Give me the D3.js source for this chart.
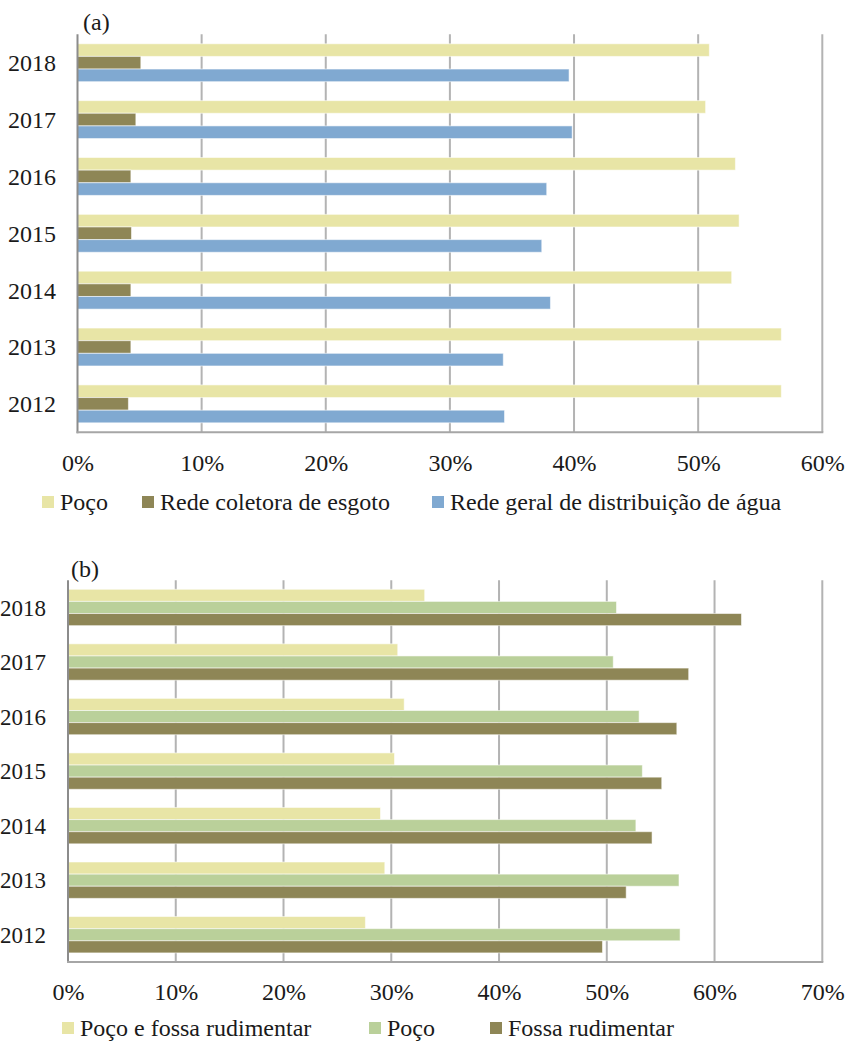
<!DOCTYPE html>
<html>
<head>
<meta charset="utf-8">
<script src="https://cdn.jsdelivr.net/npm/d3@7"></script>
</head>
<body style="margin:0;padding:0;background:#fff">
<svg id="chart" width="850" height="1042" style="display:block"></svg>
<script>
// ---------- Data ----------
const years = ["2018", "2017", "2016", "2015", "2014", "2013", "2012"];

// Panel (a)
const seriesA = ["Poço", "Rede coletora de esgoto", "Rede geral de distribuição de água"];
const pocoA   = [50.9, 50.6, 53.0, 53.3, 52.7, 56.7, 56.7];
const esgotoA = [5.1, 4.7, 4.3, 4.35, 4.3, 4.3, 4.1];
const aguaA   = [39.6, 39.85, 37.8, 37.4, 38.1, 34.3, 34.4];
const ticksA  = [0, 10, 20, 30, 40, 50, 60];

// Panel (b)
const seriesB    = ["Poço e fossa rudimentar", "Poço", "Fossa rudimentar"];
const pocoFossaB = [33.1, 30.6, 31.2, 30.3, 29.0, 29.4, 27.6];
const pocoB      = [50.9, 50.6, 53.0, 53.3, 52.7, 56.7, 56.8];
const fossaB     = [62.5, 57.6, 56.5, 55.1, 54.2, 51.8, 49.6];
const ticksB     = [0, 10, 20, 30, 40, 50, 60, 70];

// ---------- Styles ----------
const FONT = '"Liberation Serif"';
const TXT = "#1a1a1a";
const YELLOW = "#e8e5a6", BROWN = "#8e8656", BLUE = "#80a9d1", GREEN = "#bad09a";
const svg = d3.select("#chart");

function styleText(sel, size) {
  return sel.style("font-family", FONT).style("font-size", size + "px").style("fill", TXT);
}

function panel(cfg) {
  const g = svg.append("g");
  const x = d3.scaleLinear().domain([0, cfg.max]).range([cfg.x0, cfg.x1]);
  const y = d3.scaleBand().domain(years).range([cfg.y0, cfg.y1])
              .paddingInner(1/3).paddingOuter(1/6);
  const sub = d3.scaleBand().domain(cfg.series.map((d, i) => i)).range([0, y.bandwidth()]);

  // gridlines
  g.append("g").selectAll("line").data(cfg.ticks.filter(t => t > 0)).join("line")
    .attr("x1", d => x(d)).attr("x2", d => x(d))
    .attr("y1", cfg.y0).attr("y2", cfg.y1)
    .attr("stroke", "#b3b3b3").attr("stroke-width", 2);

  // bars
  cfg.values.forEach((vals, si) => {
    g.append("g").selectAll("rect").data(vals).join("rect")
      .attr("x", x(0))
      .attr("y", (d, i) => y(years[i]) + sub(si))
      .attr("width", d => x(d) - x(0))
      .attr("height", sub.bandwidth())
      .attr("fill", cfg.colors[si])
      .attr("stroke", "#ffffff").attr("stroke-opacity", 0.55).attr("stroke-width", 1);
  });

  // left axis line and bottom line
  g.append("line").attr("x1", x(0)).attr("x2", x(0)).attr("y1", cfg.y0).attr("y2", cfg.y1 + 1)
    .attr("stroke", "#8c8c8c").attr("stroke-width", 2);
  g.append("line").attr("x1", x(0) - 1).attr("x2", x(cfg.max) + 1).attr("y1", cfg.y1).attr("y2", cfg.y1)
    .attr("stroke", "#a6a6a6").attr("stroke-width", 2);

  // x tick labels
  const ax = g.append("g").attr("transform", `translate(0,${cfg.y1})`)
    .call(d3.axisBottom(x).tickValues(cfg.ticks).tickSize(0).tickFormat(d => d + "%"));
  ax.attr("font-family", null).attr("font-size", null);
  ax.select(".domain").remove();
  styleText(ax.selectAll("text").attr("y", 30).attr("dy", "0.35em"), 24);

  // y labels
  styleText(g.append("g").selectAll("text").data(years).join("text")
    .attr("x", cfg.yLabelX).attr("y", d => y(d) + y.bandwidth() / 2)
    .attr("dy", "0.35em").attr("text-anchor", "end"), cfg.yFont).text(d => d);

  // panel label
  styleText(g.append("text").attr("x", cfg.labelX).attr("y", cfg.labelY), 24).text(cfg.label);

  // legend
  const lg = g.append("g");
  cfg.series.forEach((s, i) => {
    const lx = cfg.legendX[i];
    lg.append("rect").attr("x", lx - 18).attr("y", cfg.legendY - 6).attr("width", 12).attr("height", 12)
      .attr("fill", cfg.colors[i]);
    styleText(lg.append("text").attr("x", lx).attr("y", cfg.legendY).attr("dy", "0.35em"), 24).text(s);
  });
}

panel({
  max: 60, x0: 77.5, x1: 822.3, y0: 34.3, y1: 432.3,
  ticks: ticksA, series: seriesA, values: [pocoA, esgotoA, aguaA],
  colors: [YELLOW, BROWN, BLUE],
  yLabelX: 56, yFont: 24, label: "(a)", labelX: 83, labelY: 30,
  legendX: [60, 160, 450], legendY: 502
});

panel({
  max: 70, x0: 68, x1: 822.3, y0: 580.2, y1: 962,
  ticks: ticksB, series: seriesB, values: [pocoFossaB, pocoB, fossaB],
  colors: [YELLOW, GREEN, BROWN],
  yLabelX: 46, yFont: 23, label: "(b)", labelX: 71, labelY: 577,
  legendX: [80, 387, 508], legendY: 1028
});
</script>
</body>
</html>
